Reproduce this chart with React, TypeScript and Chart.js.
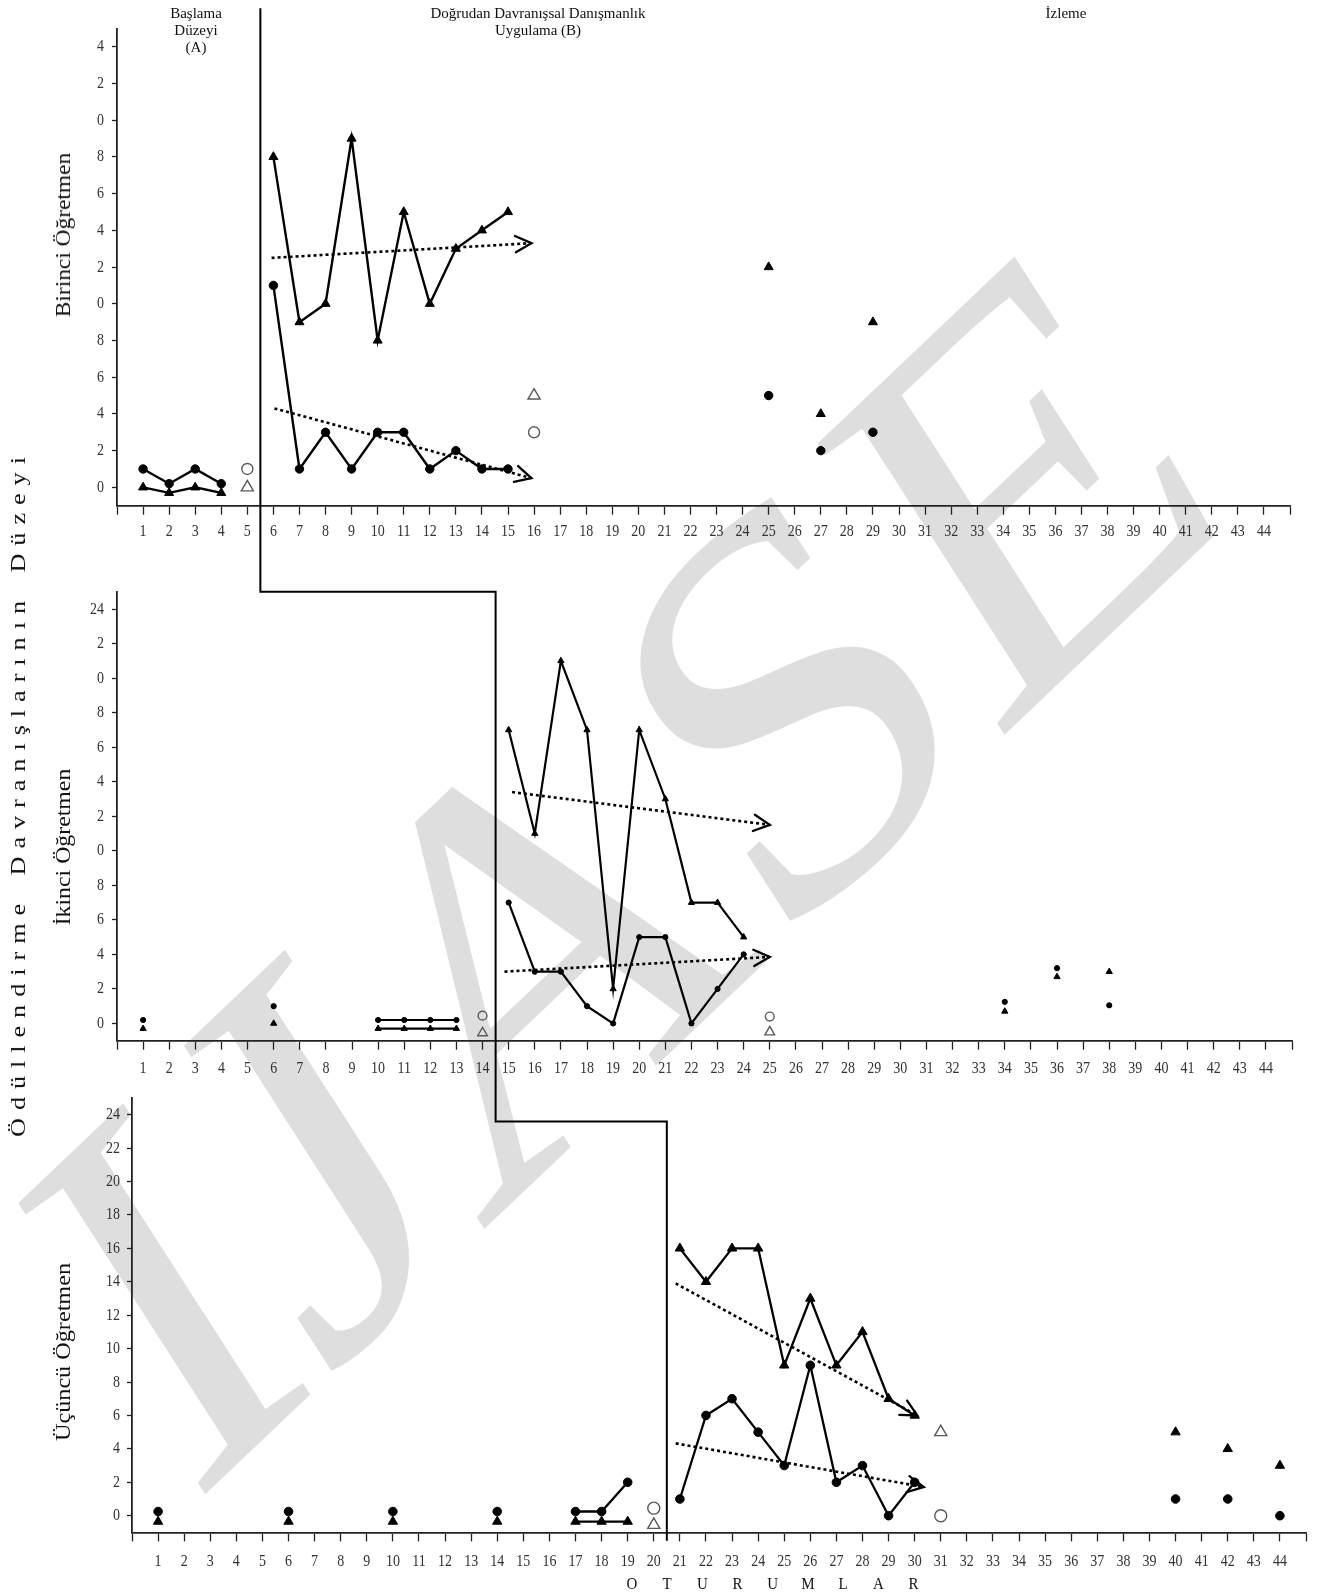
import React, { useEffect, useRef } from 'react';
import { Chart, registerables } from 'chart.js';

Chart.register(...registerables);

const FONT = '"Liberation Serif", "Times New Roman", serif';

// ---------- axes ----------
const sessionTickValues = [0, 1, 2, 3, 4, 5, 6, 7, 8, 9, 10, 11, 12, 13, 14, 15, 16, 17, 18, 19, 20, 21, 22, 23, 24, 25, 26, 27, 28, 29, 30, 31, 32, 33, 34, 35, 36, 37, 38, 39, 40, 41, 42, 43, 44, 45];
const sessionTickLabels = ['', '1', '2', '3', '4', '5', '6', '7', '8', '9', '10', '11', '12', '13', '14', '15', '16', '17', '18', '19', '20', '21', '22', '23', '24', '25', '26', '27', '28', '29', '30', '31', '32', '33', '34', '35', '36', '37', '38', '39', '40', '41', '42', '43', '44', ''];
const levelTickValues = [0, 2, 4, 6, 8, 10, 12, 14, 16, 18, 20, 22, 24];
const levelTickLabelsTop = ['0', '2', '4', '6', '8', '0', '2', '4', '6', '8', '0', '2', '4'];
const levelTickLabelsMiddle = ['0', '2', '4', '6', '8', '0', '2', '4', '6', '8', '0', '2', '24'];
const levelTickLabelsBottom = ['0', '2', '4', '6', '8', '10', '12', '14', '16', '18', '20', '22', '24'];

// phase-change line: sessions where it crosses, and level values of its corners
const phaseChangeSessions = [5.5, 14.5, 20.5];
const phaseCornerLevels = [26.1, 25, 23.6, -1.5];

// ---------- Birinci Öğretmen ----------
const t1BaselineSessions = [1, 2, 3, 4];
const t1BaselineCircle = [1, 0.2, 1, 0.2];
const t1BaselineTriangle = [0, -0.3, 0, -0.3];
const t1ProbeSessions = [5, 16];
const t1ProbeCircle = [1, 3];
const t1ProbeTriangle = [0, 5];
const t1TreatmentSessions = [6, 7, 8, 9, 10, 11, 12, 13, 14, 15];
const t1TreatmentCircle = [11, 1, 3, 1, 3, 3, 1, 2, 1, 1];
const t1TreatmentTriangle = [18, 9, 10, 19, 8, 15, 10, 13, 14, 15];
const t1FollowUpSessions = [25, 27, 29];
const t1FollowUpCircle = [5, 2, 3];
const t1FollowUpTriangle = [12, 4, 9];
const t1TrendTriangleSessions = [5.93, 15.9];
const t1TrendTriangleValues = [12.5, 13.3];
const t1TrendCircleSessions = [6.04, 15.9];
const t1TrendCircleValues = [4.3, 0.5];

// ---------- İkinci Öğretmen ----------
const t2BaselineSingleSessions = [1, 6];
const t2BaselineSingleCircle = [0.2, 1];
const t2BaselineSingleTriangle = [-0.3, 0];
const t2BaselineRunSessions = [10, 11, 12, 13];
const t2BaselineRunCircle = [0.2, 0.2, 0.2, 0.2];
const t2BaselineRunTriangle = [-0.3, -0.3, -0.3, -0.3];
const t2ProbeSessions = [14, 25];
const t2ProbeCircle = [0.45, 0.4];
const t2ProbeTriangle = [-0.55, -0.5];
const t2TreatmentSessions = [15, 16, 17, 18, 19, 20, 21, 22, 23, 24];
const t2TreatmentCircle = [7, 3, 3, 1, 0, 5, 5, 0, 2, 4];
const t2TreatmentTriangle = [17, 11, 21, 17, 2, 17, 13, 7, 7, 5];
const t2FollowUpSessions = [34, 36, 38];
const t2FollowUpCircle = [1.25, 3.2, 1.05];
const t2FollowUpTriangle = [0.7, 2.7, 3];
const t2TrendTriangleSessions = [15.13, 25.0];
const t2TrendTriangleValues = [13.4, 11.5];
const t2TrendCircleSessions = [14.84, 25.0];
const t2TrendCircleValues = [3.0, 3.85];

// ---------- Üçüncü Öğretmen ----------
const t3BaselineSingleSessions = [1, 6, 10, 14];
const t3BaselineSingleCircle = [0.25, 0.25, 0.25, 0.25];
const t3BaselineSingleTriangle = [-0.35, -0.35, -0.35, -0.35];
const t3BaselineRunSessions = [17, 18, 19];
const t3BaselineRunCircle = [0.25, 0.25, 2];
const t3BaselineRunTriangle = [-0.35, -0.35, -0.35];
const t3ProbeSessions = [20, 31];
const t3ProbeCircle = [0.45, 0];
const t3ProbeTriangle = [-0.55, 5];
const t3TreatmentSessions = [21, 22, 23, 24, 25, 26, 27, 28, 29, 30];
const t3TreatmentCircle = [1, 6, 7, 5, 3, 9, 2, 3, 0, 2];
const t3TreatmentTriangle = [16, 14, 16, 16, 9, 13, 9, 11, 7, 6];
const t3FollowUpSessions = [40, 42, 44];
const t3FollowUpCircle = [1, 1, 0];
const t3FollowUpTriangle = [5, 4, 3];
const t3TrendTriangleSessions = [20.84, 30.1];
const t3TrendTriangleValues = [13.9, 6.0];
const t3TrendCircleSessions = [20.84, 30.35];
const t3TrendCircleValues = [4.33, 1.72];

// ---------- helpers ----------
type Size = { circle: number; tri: number; line: number; openCircle: number; openTri: number };

const pts = (xs: number[], ys: number[]) => xs.map((x, i) => ({ x, y: ys[i] }));

function filled(xs: number[], ys: number[], kind: 'circle' | 'triangle', connected: boolean, s: Size) {
  return {
    data: pts(xs, ys),
    showLine: connected,
    borderColor: '#000',
    borderWidth: s.line,
    backgroundColor: '#000',
    pointStyle: kind,
    pointRadius: kind === 'circle' ? s.circle : s.tri,
    pointHoverRadius: kind === 'circle' ? s.circle : s.tri,
    pointBackgroundColor: '#000',
    pointBorderColor: '#000',
    pointBorderWidth: 1,
  };
}

function hollow(xs: number[], ys: number[], kind: 'circle' | 'triangle', s: Size) {
  return {
    data: pts(xs, ys),
    showLine: false,
    pointStyle: kind,
    pointRadius: kind === 'circle' ? s.openCircle : s.openTri,
    pointHoverRadius: kind === 'circle' ? s.openCircle : s.openTri,
    pointBackgroundColor: 'rgba(255,255,255,0)',
    pointBorderColor: '#5a5a5a',
    pointBorderWidth: 1.4,
  };
}

function trend(xs: number[], ys: number[]) {
  return {
    data: pts(xs, ys),
    showLine: true,
    borderColor: '#000',
    borderWidth: 2.6,
    borderDash: [3, 3],
    pointRadius: 0,
    pointHoverRadius: 0,
    arrow: true,
  };
}

const arrowPlugin = {
  id: 'trendArrows',
  afterDatasetsDraw(chart: any) {
    const ctx = chart.ctx;
    chart.data.datasets.forEach((ds: any, i: number) => {
      if (!ds.arrow) return;
      const meta = chart.getDatasetMeta(i);
      const n = meta.data.length;
      const p1 = meta.data[n - 2];
      const p2 = meta.data[n - 1];
      const ang = Math.atan2(p2.y - p1.y, p2.x - p1.x);
      const len = 18;
      const spread = (27 * Math.PI) / 180;
      ctx.save();
      ctx.setLineDash([]);
      ctx.strokeStyle = '#000';
      ctx.lineWidth = 2.3;
      ctx.lineCap = 'round';
      ctx.beginPath();
      ctx.moveTo(p2.x - len * Math.cos(ang - spread), p2.y - len * Math.sin(ang - spread));
      ctx.lineTo(p2.x, p2.y);
      ctx.lineTo(p2.x - len * Math.cos(ang + spread), p2.y - len * Math.sin(ang + spread));
      ctx.stroke();
      ctx.restore();
    });
  },
};

type Panel = {
  top: number;
  height: number;
  areaTop: number;
  areaBottom: number;
  left: number;
  right: number;
  xLabelOffset: number;
  yLabelGap: number;
  yLabels: string[];
  datasets: any[];
};

function makeTickLabelPlugin(p: Panel) {
  return {
    id: 'stretchedTicks',
    afterDraw(chart: any) {
      const ctx = chart.ctx;
      const xs = chart.scales.x;
      const ys = chart.scales.y;
      ctx.save();
      ctx.fillStyle = '#333';
      ctx.font = `14px ${FONT}`;
      ctx.textBaseline = 'middle';
      ctx.textAlign = 'center';
      sessionTickValues.forEach((v, i) => {
        const label = sessionTickLabels[i];
        if (!label) return;
        ctx.save();
        ctx.translate(xs.getPixelForValue(v), xs.top + p.xLabelOffset);
        ctx.scale(1, 1.22);
        ctx.fillText(label, 0, 0);
        ctx.restore();
      });
      ctx.textAlign = 'right';
      levelTickValues.forEach((v, i) => {
        ctx.save();
        ctx.translate(ys.right - p.yLabelGap, ys.getPixelForValue(v));
        ctx.scale(1, 1.22);
        ctx.fillText(p.yLabels[i], 0, 0);
        ctx.restore();
      });
      ctx.restore();
    },
  };
}

const bigSize: Size = { circle: 4.2, tri: 5.2, line: 2.4, openCircle: 5.5, openTri: 7 };
const smallSize: Size = { circle: 2.6, tri: 3.6, line: 2.2, openCircle: 4.4, openTri: 5.6 };
const bottomSize: Size = { circle: 4.3, tri: 5.4, line: 2.3, openCircle: 6, openTri: 7 };

const panels: Panel[] = [
  {
    top: 0, height: 560, areaTop: 28.4, areaBottom: 505.7, left: 117, right: 1290,
    xLabelOffset: 26, yLabelGap: 13, yLabels: levelTickLabelsTop,
    datasets: [
      filled(t1BaselineSessions, t1BaselineCircle, 'circle', true, bigSize),
      filled(t1BaselineSessions, t1BaselineTriangle, 'triangle', true, bigSize),
      hollow(t1ProbeSessions, t1ProbeCircle, 'circle', bigSize),
      hollow(t1ProbeSessions, t1ProbeTriangle, 'triangle', bigSize),
      filled(t1TreatmentSessions, t1TreatmentCircle, 'circle', true, bigSize),
      filled(t1TreatmentSessions, t1TreatmentTriangle, 'triangle', true, bigSize),
      filled(t1FollowUpSessions, t1FollowUpCircle, 'circle', false, bigSize),
      filled(t1FollowUpSessions, t1FollowUpTriangle, 'triangle', false, bigSize),
      trend(t1TrendTriangleSessions, t1TrendTriangleValues),
      trend(t1TrendCircleSessions, t1TrendCircleValues),
    ],
  },
  {
    top: 560, height: 520, areaTop: 31.8, areaBottom: 480.7, left: 117, right: 1292,
    xLabelOffset: 28, yLabelGap: 13, yLabels: levelTickLabelsMiddle,
    datasets: [
      filled(t2BaselineSingleSessions, t2BaselineSingleCircle, 'circle', false, smallSize),
      filled(t2BaselineSingleSessions, t2BaselineSingleTriangle, 'triangle', false, smallSize),
      filled(t2BaselineRunSessions, t2BaselineRunCircle, 'circle', true, smallSize),
      filled(t2BaselineRunSessions, t2BaselineRunTriangle, 'triangle', true, smallSize),
      hollow(t2ProbeSessions, t2ProbeCircle, 'circle', smallSize),
      hollow(t2ProbeSessions, t2ProbeTriangle, 'triangle', smallSize),
      filled(t2TreatmentSessions, t2TreatmentCircle, 'circle', true, smallSize),
      filled(t2TreatmentSessions, t2TreatmentTriangle, 'triangle', true, smallSize),
      filled(t2FollowUpSessions, t2FollowUpCircle, 'circle', false, smallSize),
      filled(t2FollowUpSessions, t2FollowUpTriangle, 'triangle', false, smallSize),
      trend(t2TrendTriangleSessions, t2TrendTriangleValues),
      trend(t2TrendCircleSessions, t2TrendCircleValues),
    ],
  },
  {
    top: 1080, height: 512, areaTop: 18, areaBottom: 452.4, left: 132, right: 1306,
    xLabelOffset: 29, yLabelGap: 12, yLabels: levelTickLabelsBottom,
    datasets: [
      filled(t3BaselineSingleSessions, t3BaselineSingleCircle, 'circle', false, bottomSize),
      filled(t3BaselineSingleSessions, t3BaselineSingleTriangle, 'triangle', false, bottomSize),
      filled(t3BaselineRunSessions, t3BaselineRunCircle, 'circle', true, bottomSize),
      filled(t3BaselineRunSessions, t3BaselineRunTriangle, 'triangle', true, bottomSize),
      hollow(t3ProbeSessions, t3ProbeCircle, 'circle', bottomSize),
      hollow(t3ProbeSessions, t3ProbeTriangle, 'triangle', bottomSize),
      filled(t3TreatmentSessions, t3TreatmentCircle, 'circle', true, bottomSize),
      filled(t3TreatmentSessions, t3TreatmentTriangle, 'triangle', true, bottomSize),
      filled(t3FollowUpSessions, t3FollowUpCircle, 'circle', false, bottomSize),
      filled(t3FollowUpSessions, t3FollowUpTriangle, 'triangle', false, bottomSize),
      trend(t3TrendTriangleSessions, t3TrendTriangleValues),
      trend(t3TrendCircleSessions, t3TrendCircleValues),
    ],
  },
];

function buildConfig(p: Panel): any {
  return {
    type: 'scatter',
    data: { datasets: p.datasets },
    options: {
      animation: false,
      responsive: false,
      maintainAspectRatio: false,
      devicePixelRatio: 1,
      events: [],
      layout: { padding: { top: p.areaTop, right: 1320 - p.right, left: 0, bottom: 0 } },
      plugins: { legend: { display: false }, tooltip: { enabled: false } },
      scales: {
        x: {
          type: 'linear',
          min: 0,
          max: 45,
          afterBuildTicks: (s: any) => {
            s.ticks = sessionTickValues.map((v) => ({ value: v }));
          },
          afterFit: (s: any) => {
            s.height = p.height - p.areaBottom;
          },
          grid: { display: true, drawOnChartArea: false, drawTicks: true, tickLength: 9, tickColor: '#222', tickWidth: 1.3 },
          border: { display: true, color: '#222', width: 1.8 },
          ticks: { display: false, autoSkip: false },
        },
        y: {
          type: 'linear',
          min: -1,
          max: 25,
          afterBuildTicks: (s: any) => {
            s.ticks = levelTickValues.map((v) => ({ value: v }));
          },
          afterFit: (s: any) => {
            s.width = p.left;
          },
          grid: { display: true, drawOnChartArea: false, drawTicks: true, tickLength: 5, tickColor: '#222', tickWidth: 1.3 },
          border: { display: true, color: '#222', width: 1.8 },
          ticks: { display: false, autoSkip: false },
        },
      },
    },
    plugins: [arrowPlugin, makeTickLabelPlugin(p)],
  };
}

function drawPhaseLines(canvas: HTMLCanvasElement, charts: any[]) {
  const ctx = canvas.getContext('2d')!;
  ctx.clearRect(0, 0, canvas.width, canvas.height);
  const [a, b, c] = charts;
  const x1 = a.scales.x.getPixelForValue(phaseChangeSessions[0]);
  const y0 = panels[0].top + a.scales.y.getPixelForValue(phaseCornerLevels[0]);
  const yB = panels[1].top + b.scales.y.getPixelForValue(phaseCornerLevels[1]);
  const x2 = b.scales.x.getPixelForValue(phaseChangeSessions[1]);
  const yC = panels[2].top + c.scales.y.getPixelForValue(phaseCornerLevels[2]);
  const x3 = c.scales.x.getPixelForValue(phaseChangeSessions[2]);
  const yEnd = panels[2].top + c.scales.y.getPixelForValue(phaseCornerLevels[3]);
  ctx.strokeStyle = '#000';
  ctx.lineWidth = 2;
  ctx.beginPath();
  ctx.moveTo(x1, y0);
  ctx.lineTo(x1, yB);
  ctx.lineTo(x2, yB);
  ctx.lineTo(x2, yC);
  ctx.lineTo(x3, yC);
  ctx.lineTo(x3, yEnd);
  ctx.stroke();
}

function drawWatermark(canvas: HTMLCanvasElement) {
  const ctx = canvas.getContext('2d')!;
  ctx.clearRect(0, 0, canvas.width, canvas.height);
  ctx.save();
  ctx.setTransform(4.01, -3.81, 2.856, 4.446, 190.8, 1507.9);
  ctx.font = `100px ${FONT}`;
  ctx.fillStyle = '#dedede';
  ctx.textBaseline = 'alphabetic';
  ctx.fillText('IJASE', 0, 0);
  ctx.restore();
}

const abs = (extra: React.CSSProperties): React.CSSProperties => ({ position: 'absolute', ...extra });

export default function App() {
  const refA = useRef<HTMLCanvasElement>(null);
  const refB = useRef<HTMLCanvasElement>(null);
  const refC = useRef<HTMLCanvasElement>(null);
  const overlayRef = useRef<HTMLCanvasElement>(null);
  const wmRef = useRef<HTMLCanvasElement>(null);

  useEffect(() => {
    document.body.style.margin = '0';
    const refs = [refA, refB, refC];
    const charts = panels.map((p, i) => new Chart(refs[i].current as HTMLCanvasElement, buildConfig(p)));
    if (wmRef.current) drawWatermark(wmRef.current);
    if (overlayRef.current) drawPhaseLines(overlayRef.current, charts);
    return () => charts.forEach((c) => c.destroy());
  }, []);

  const refs = [refA, refB, refC];
  const textBase: React.CSSProperties = { fontFamily: FONT, color: '#111', whiteSpace: 'nowrap' };

  return (
    <div style={abs({ left: 0, top: 0, width: 1320, height: 1592, background: '#fff', overflow: 'hidden' })}>
      <canvas ref={wmRef} width={1320} height={1592} style={abs({ left: 0, top: 0, width: 1320, height: 1592, zIndex: 0 })} />
      {panels.map((p, i) => (
        <canvas
          key={i}
          ref={refs[i]}
          width={1320}
          height={p.height}
          style={abs({ left: 0, top: p.top, width: 1320, height: p.height, zIndex: 1 })}
        />
      ))}
      <canvas ref={overlayRef} width={1320} height={1592} style={abs({ left: 0, top: 0, width: 1320, height: 1592, zIndex: 2, pointerEvents: 'none' })} />

      {/* phase headings */}
      <div style={abs({ ...textBase, left: 196, top: 4.7, transform: 'translateX(-50%)', fontSize: 15, lineHeight: '17.2px', textAlign: 'center', zIndex: 3 })}>
        Başlama<br />Düzeyi<br />(A)
      </div>
      <div style={abs({ ...textBase, left: 538, top: 4.7, transform: 'translateX(-50%)', fontSize: 15, lineHeight: '17.2px', textAlign: 'center', zIndex: 3 })}>
        Doğrudan Davranışsal Danışmanlık<br />Uygulama (B)
      </div>
      <div style={abs({ ...textBase, left: 1066, top: 4.7, transform: 'translateX(-50%)', fontSize: 15, lineHeight: '17.2px', textAlign: 'center', zIndex: 3 })}>
        İzleme
      </div>

      {/* overall y title */}
      <div style={abs({ ...textBase, left: 18, top: 793, transform: 'translate(-50%,-50%) rotate(-90deg) scaleX(1.19)', fontSize: 22, lineHeight: '24px', letterSpacing: '6.7px', wordSpacing: '5px', zIndex: 3 })}>
        Ödüllendirme Davranışlarının Düzeyi
      </div>

      {/* panel titles */}
      <div style={abs({ ...textBase, left: 63, top: 235, transform: 'translate(-50%,-50%) rotate(-90deg) scaleX(1.17)', fontSize: 20, lineHeight: '22px', zIndex: 3 })}>
        Birinci Öğretmen
      </div>
      <div style={abs({ ...textBase, left: 63, top: 847, transform: 'translate(-50%,-50%) rotate(-90deg) scaleX(1.19)', fontSize: 20, lineHeight: '22px', zIndex: 3 })}>
        İkinci Öğretmen
      </div>
      <div style={abs({ ...textBase, left: 63, top: 1352, transform: 'translate(-50%,-50%) rotate(-90deg) scaleX(1.21)', fontSize: 20, lineHeight: '22px', zIndex: 3 })}>
        Üçüncü Öğretmen
      </div>

      {/* x title */}
      <div style={abs({ ...textBase, left: 614.4, top: 1574, display: 'flex', fontSize: 15, lineHeight: '18px', transform: 'scaleY(1.15)', zIndex: 3 })}>
        {'OTURUMLAR'.split('').map((ch, i) => (
          <span key={i} style={{ display: 'inline-block', width: 35.2, textAlign: 'center' }}>{ch}</span>
        ))}
      </div>
    </div>
  );
}
